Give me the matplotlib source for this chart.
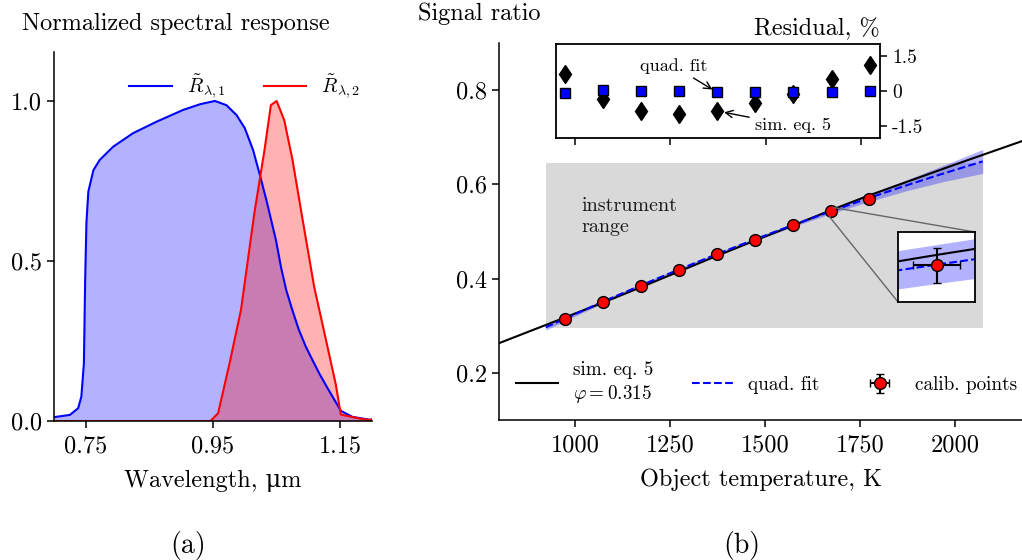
import matplotlib
matplotlib.use("Agg")
import matplotlib.pyplot as plt
from matplotlib.patches import Rectangle
from mpl_toolkits.axes_grid1.inset_locator import mark_inset

plt.rcParams["font.family"] = ["cmr10", "DejaVu Serif"]
plt.rcParams["mathtext.fontset"] = "cm"
plt.rcParams["axes.formatter.use_mathtext"] = True
plt.rcParams["axes.linewidth"] = 1.1

# ---------------- spectral responses ----------------
wl_1 = [0.700, 0.725, 0.738, 0.743, 0.747, 0.749, 0.751, 0.754, 0.762, 0.772,
        0.793, 0.824, 0.861, 0.903, 0.930, 0.953, 0.971, 0.987, 1.000, 1.013,
        1.023, 1.034, 1.049, 1.057, 1.065, 1.075, 1.085, 1.096, 1.107, 1.117,
        1.128, 1.138, 1.151, 1.169, 1.196, 1.200]
resp_1 = [0.012, 0.019, 0.040, 0.076, 0.180, 0.440, 0.620, 0.717, 0.784, 0.816,
          0.857, 0.899, 0.935, 0.972, 0.990, 1.000, 0.987, 0.956, 0.915, 0.847,
          0.774, 0.690, 0.565, 0.480, 0.410, 0.345, 0.285, 0.232, 0.188, 0.149,
          0.110, 0.076, 0.032, 0.013, 0.004, 0.003]

wl_2 = [0.700, 0.946, 0.958, 0.976, 0.994, 1.015, 1.031, 1.041, 1.050, 1.062,
        1.075, 1.091, 1.109, 1.128, 1.143, 1.151, 1.180, 1.196, 1.200]
resp_2 = [0.000, 0.000, 0.024, 0.180, 0.347, 0.649, 0.847, 0.987, 1.000, 0.940,
          0.816, 0.628, 0.420, 0.250, 0.115, 0.020, 0.008, 0.003, 0.006]

wl_ticks = [0.75, 0.95, 1.15]
resp_ticks = [0.0, 0.5, 1.0]

# ---------------- calibration ----------------
T_cal = [973, 1073, 1173, 1273, 1373, 1473, 1573, 1673, 1773]
ratio_cal = [0.315, 0.350, 0.385, 0.419, 0.452, 0.483, 0.513, 0.5425, 0.570]
T_err = 3.0
ratio_err = 0.0044

T_sim = [800, 973, 1073, 1173, 1273, 1373, 1473, 1573, 1673, 1773, 2000, 2200]
ratio_sim = [0.2630, 0.3173, 0.3489, 0.3817, 0.4149, 0.4482, 0.4806, 0.5123,
             0.5452, 0.5763, 0.6420, 0.6985]

T_fit = [923, 973, 1073, 1173, 1273, 1373, 1473, 1573, 1673, 1773, 1873, 1973, 2073]
ratio_fit = [0.2967, 0.3150, 0.3509, 0.3856, 0.4193, 0.4518, 0.4833, 0.5136,
             0.5427, 0.5710, 0.5981, 0.6240, 0.6488]
fit_band = [0.0060, 0.0045, 0.0035, 0.0030, 0.0028, 0.0028, 0.0030, 0.0035,
            0.0050, 0.0075, 0.0115, 0.0175, 0.0255]

resid_sim = [0.73, -0.32, -0.85, -0.97, -0.85, -0.50, -0.14, 0.49, 1.10]
resid_fit = [-0.08, 0.03, 0.00, -0.01, -0.06, -0.03, -0.04, -0.03, 0.00]

T_ticks = [1000, 1250, 1500, 1750, 2000]
ratio_ticks = [0.2, 0.4, 0.6, 0.8]
resid_ticks = [1.5, 0, -1.5]
resid_ticklabels = ["1.5", "0", "-1.5"]

# instrument operating window (K, signal ratio)
range_T = (923, 2073)
range_ratio = (0.295, 0.645)

W, H = 1022, 560
fig = plt.figure(figsize=(W / 100, H / 100), dpi=100)

FS = 17.5
FS_LEG = 13.8


def px_rect(x0, y0, x1, y1):
    return [x0 / W, 1 - y1 / H, (x1 - x0) / W, (y1 - y0) / H]


def style_axis(ax):
    for s in ("top", "right"):
        ax.spines[s].set_visible(False)
    ax.tick_params(direction="out", length=5, width=1.1, labelsize=FS)
    ax.tick_params(axis="x", pad=5)


# ---------------- panel (a) ----------------
ax1 = fig.add_axes(px_rect(54, 52, 372, 421))
ax1.fill_between(wl_1, resp_1, color="blue", alpha=0.3, lw=0)
ax1.fill_between(wl_2, resp_2, color="red", alpha=0.3, lw=0)
ax1.plot(wl_1, resp_1, color="blue", lw=1.5, label=r"$\tilde{R}_{\lambda,1}$")
ax1.plot(wl_2, resp_2, color="red", lw=1.5, label=r"$\tilde{R}_{\lambda,2}$")
ax1.set_xlim(0.7, 1.2)
ax1.set_ylim(0, 1.153)
ax1.set_xticks(wl_ticks)
ax1.set_xticklabels([f"{v:.2f}" for v in wl_ticks])
ax1.set_yticks(resp_ticks)
ax1.set_yticklabels([f"{v:.1f}" for v in resp_ticks])
style_axis(ax1)
ax1.set_xlabel("Wavelength, \u03bcm", fontsize=FS, labelpad=9)
ax1.legend(loc="center", bbox_to_anchor=(0.60, 0.905), ncol=2, frameon=False,
           fontsize=14.5, handlelength=2.1, handletextpad=0.75, columnspacing=1.9)
fig.text(22 / W, 1 - 30 / H, "Normalized spectral response", fontsize=FS,
         ha="left", va="baseline")
fig.text(188 / W, 1 - 545 / H, "(a)", fontsize=20, ha="center", va="center")

# ---------------- panel (b) ----------------
ax2 = fig.add_axes(px_rect(499, 43, 1022, 420))
ax2.add_patch(Rectangle((range_T[0], range_ratio[0]), range_T[1] - range_T[0],
                        range_ratio[1] - range_ratio[0], color="0.85", lw=0, zorder=0.5))
band_lo = [v - b for v, b in zip(ratio_fit, fit_band)]
band_hi = [v + b for v, b in zip(ratio_fit, fit_band)]
ax2.fill_between(T_fit, band_lo, band_hi, color="blue", alpha=0.3, lw=0, zorder=1)
l_sim, = ax2.plot(T_sim, ratio_sim, color="black", lw=1.5, zorder=2,
                  label="sim. eq. 5\n" + r"$\varphi = 0.315$")
l_fit, = ax2.plot(T_fit, ratio_fit, color="blue", lw=1.5, ls="--", zorder=2.5,
                  label="quad. fit")
eb = ax2.errorbar(T_cal, ratio_cal, xerr=T_err, yerr=ratio_err, fmt="o",
                  mfc="red", mec="black", mew=1.0, ms=8.5, ecolor="black",
                  elinewidth=1.5, capsize=3, capthick=1.5, zorder=3,
                  label="calib. points")
ax2.text(1018, 0.532, "instrument\nrange", fontsize=14.5, ha="left", va="center",
         linespacing=1.2, color="0.1")
ax2.set_xlim(800, 800 + 523 / 0.38)
ax2.set_ylim(0.1, 0.9)
ax2.set_xticks(T_ticks)
ax2.set_xticklabels([str(v) for v in T_ticks])
ax2.set_yticks(ratio_ticks)
ax2.set_yticklabels([f"{v:.1f}" for v in ratio_ticks])
style_axis(ax2)
ax2.set_xlabel("Object temperature, K", fontsize=FS, labelpad=9)
ax2.legend(handles=[l_sim, l_fit, eb], loc="center", bbox_to_anchor=(0.512, 0.098),
           ncol=3, frameon=False, fontsize=FS_LEG, handlelength=2.19,
           handletextpad=0.75, columnspacing=2.03)
fig.text(418 / W, 1 - 20 / H, "Signal ratio", fontsize=FS, ha="left", va="baseline")
fig.text(742 / W, 1 - 545 / H, "(b)", fontsize=20, ha="center", va="center")

# zoom on one calibration point
axz = ax2.inset_axes([(898 - 499) / 523, (420 - 302) / 377, 77 / 523, 70 / 377])
axz.fill_between(T_fit, band_lo, band_hi, color="blue", alpha=0.3, lw=0)
axz.plot(T_sim, ratio_sim, color="black", lw=1.5)
axz.plot(T_fit, ratio_fit, color="blue", lw=1.5, ls="--")
axz.errorbar(T_cal, ratio_cal, xerr=T_err, yerr=ratio_err, fmt="o",
             mfc="red", mec="black", mew=1.0, ms=8.5, ecolor="black",
             elinewidth=1.5, capsize=3, capthick=1.5)
axz.set_xlim(1668, 1678)
axz.set_ylim(0.5331, 0.5511)
axz.set_xticks([])
axz.set_yticks([])
for s in axz.spines.values():
    s.set_linewidth(1.3)
mark_inset(ax2, axz, loc1=1, loc2=3, fc="none", ec="0.4", lw=1.0)

# residuals
axr = ax2.inset_axes([(556 - 499) / 523, (420 - 138) / 377, 324 / 523, 94 / 377])
axr.plot(T_cal, resid_sim, ls="none", marker="d", color="black", ms=9.5)
axr.plot(T_cal, resid_fit, ls="none", marker="s", mfc="blue", mec="black",
         mew=1.0, ms=6.5)
axr.set_xlim(950, 1800)
axr.set_ylim(-2, 2)
axr.set_xticks(T_ticks[:4])
axr.set_xticklabels([])
axr.yaxis.tick_right()
axr.set_yticks(resid_ticks)
axr.set_yticklabels(resid_ticklabels)
axr.tick_params(direction="out", length=5, width=1.1, labelsize=14)
for s in axr.spines.values():
    s.set_linewidth(1.3)
axr.set_title("Residual, %", loc="right", fontsize=FS, pad=6)
axr.annotate("quad. fit", xy=(T_cal[4], resid_fit[4]), xytext=(1258, 1.07),
             fontsize=13, ha="center", va="center",
             arrowprops=dict(arrowstyle="->", color="black", lw=1.0,
                             shrinkA=2, shrinkB=4))
axr.annotate("sim. eq. 5", xy=(T_cal[4], resid_sim[4]), xytext=(1571, -1.48),
             fontsize=13, ha="center", va="center",
             arrowprops=dict(arrowstyle="->", color="black", lw=1.0,
                             shrinkA=2, shrinkB=5))

fig.savefig("out.png", dpi=100)
